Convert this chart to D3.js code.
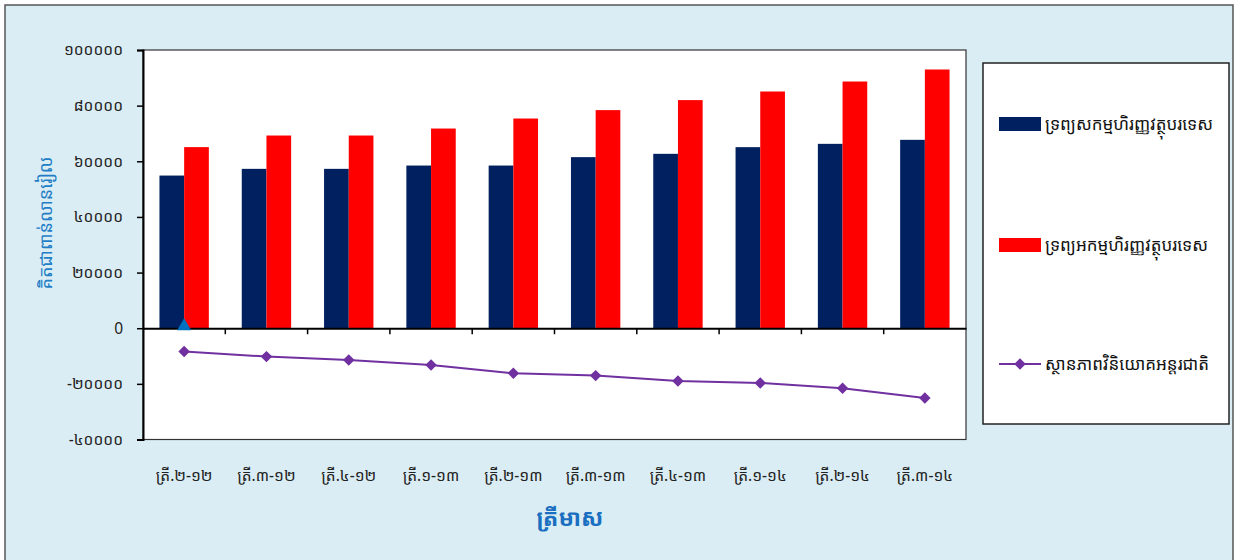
<!DOCTYPE html>
<html><head><meta charset="utf-8">
<script src="https://cdn.jsdelivr.net/npm/d3@7"></script>
<style>
body{margin:0;background:#fff;}
text{font-family:"Noto Sans Khmer","Khmer OS","Khmer OS System","Noto Serif Khmer","DejaVu Sans","Noto Sans",sans-serif;}
</style></head>
<body><svg id="c" width="1235" height="560"></svg>
<script>
const categories = ["ត្រី.២-១២","ត្រី.៣-១២","ត្រី.៤-១២","ត្រី.១-១៣","ត្រី.២-១៣","ត្រី.៣-១៣","ត្រី.៤-១៣","ត្រី.១-១៤","ត្រី.២-១៤","ត្រី.៣-១៤"];
const assets = [54870,57280,57280,58470,58470,61490,62680,65080,66270,67710];
const liabilities = [65090,69260,69260,71770,75370,78390,81990,85080,88670,92990];
const niip = [-8410,-10210,-11400,-13200,-16180,-17040,-18950,-19670,-21570,-25060];
const extraMarker = [0,null,null,null,null,null,null,null,null,null];
const yTickValues = [-40000,-20000,0,20000,40000,60000,80000,100000];
const yTickLabels = ["-៤០០០០","-២០០០០","0","២០០០០","៤០០០០","៦០០០០","៨០០០០","១០០០០០"];
const seriesNames = ["ទ្រព្យសកម្មហិរញ្ញវត្ថុបរទេស","ទ្រព្យអកម្មហិរញ្ញវត្ថុបរទេស","ស្ថានភាពវិនិយោគអន្តរជាតិ"];
const yTitle = "គិតជាពាន់លានរៀល";
const xTitle = "ត្រីមាស";

const svg = d3.select("#c");
const L=143, R=966, T=50, B=439.5;
svg.append("rect").attr("x",5).attr("y",5).attr("width",1228).attr("height",570)
  .attr("fill","#DBEDF4").attr("stroke","#555").attr("stroke-width",1.5);
svg.append("rect").attr("x",L).attr("y",T).attr("width",R-L).attr("height",B-T)
  .attr("fill","#fff").attr("stroke","#333").attr("stroke-width",1.2);

const x = d3.scaleBand().domain(categories).range([L,R]).padding(0);
const y = d3.scaleLinear().domain([-40000,100000]).range([B,T]);
const bw = x.bandwidth()*0.3;

const g = svg.append("g");
g.selectAll(".ba").data(assets).join("rect")
  .attr("x",(d,i)=>x(categories[i])+x.bandwidth()/2-bw).attr("width",bw)
  .attr("y",d=>y(d)).attr("height",d=>y(0)-y(d)).attr("fill","#002060");
g.selectAll(".bl").data(liabilities).join("rect")
  .attr("x",(d,i)=>x(categories[i])+x.bandwidth()/2).attr("width",bw)
  .attr("y",d=>y(d)).attr("height",d=>y(0)-y(d)).attr("fill","#FF0000");

// y axis
const yAxis = d3.axisLeft(y).tickValues(yTickValues).tickFormat((d,i)=>yTickLabels[i]).tickSize(6).tickPadding(14);
const ya = svg.append("g").attr("transform",`translate(${L},0)`).call(yAxis);
ya.select(".domain").attr("stroke","#000").attr("stroke-width",2);
ya.selectAll(".tick line").attr("stroke","#000").attr("stroke-width",1.5);
ya.selectAll("text").attr("font-size",15.5).attr("fill","#222");

// x axis at zero
const xAxis = d3.axisBottom(x).tickSize(0).tickFormat("");
const xa = svg.append("g").attr("transform",`translate(0,${y(0)})`).call(xAxis);
xa.select(".domain").attr("stroke","#000").attr("stroke-width",2);
xa.selectAll(".tick").remove();
xa.selectAll(".bt").data(categories.slice(1)).join("line")
  .attr("x1",d=>x(d)).attr("x2",d=>x(d)).attr("y1",0).attr("y2",6)
  .attr("stroke","#000").attr("stroke-width",1.5);

// x labels
svg.append("g").selectAll("text").data(categories).join("text")
  .attr("x",d=>x(d)+x.bandwidth()/2).attr("y",481)
  .attr("text-anchor","middle").attr("font-size",15.5).attr("fill","#222").text(d=>d);

// line
const cx = i=>x(categories[i])+x.bandwidth()/2;
const line = d3.line().x((d,i)=>cx(i)).y(d=>y(d));
svg.append("path").datum(niip).attr("d",line).attr("fill","none").attr("stroke","#7030A0").attr("stroke-width",2);
const diamond = d3.symbol().type(d3.symbolSquare).size(66);
svg.append("g").selectAll("path").data(niip).join("path")
  .attr("transform",(d,i)=>`translate(${cx(i)},${y(d)}) rotate(45)`).attr("d",diamond()).attr("fill","#7030A0");

// triangle marker
svg.append("g").selectAll("path").data(extraMarker.map((v,i)=>[v,i]).filter(d=>d[0]!==null)).join("path")
  .attr("transform",d=>`translate(${cx(d[1])},${y(d[0])-2})`)
  .attr("d",d3.symbol().type(d3.symbolTriangle).size(85)()).attr("fill","#0070C0");

// titles
svg.append("text").attr("transform",`translate(52,223) rotate(-90)`)
  .attr("text-anchor","middle").attr("font-size",18).attr("fill","#1F7EC6").text(yTitle);
svg.append("text").attr("x",570).attr("y",526).attr("text-anchor","middle")
  .attr("font-size",23).attr("font-weight","bold").attr("fill","#1A6FC0").text(xTitle);

// legend
svg.append("rect").attr("x",983).attr("y",63).attr("width",246).attr("height",361)
  .attr("fill","#fff").attr("stroke","#222").attr("stroke-width",1.5);
const ly = [124,245,364];
const lg = svg.append("g");
lg.append("rect").attr("x",999).attr("y",ly[0]-7).attr("width",42).attr("height",14).attr("fill","#002060");
lg.append("rect").attr("x",999).attr("y",ly[1]-7).attr("width",42).attr("height",14).attr("fill","#FF0000");
lg.append("line").attr("x1",999).attr("x2",1041).attr("y1",ly[2]).attr("y2",ly[2]).attr("stroke","#7030A0").attr("stroke-width",2);
lg.append("path").attr("transform",`translate(1020,${ly[2]}) rotate(45)`).attr("d",diamond()).attr("fill","#7030A0");
lg.selectAll("text").data(seriesNames).join("text")
  .attr("x",1045).attr("y",(d,i)=>ly[i]+6).attr("font-size",17).attr("fill","#111").text(d=>d);
</script></body></html>
